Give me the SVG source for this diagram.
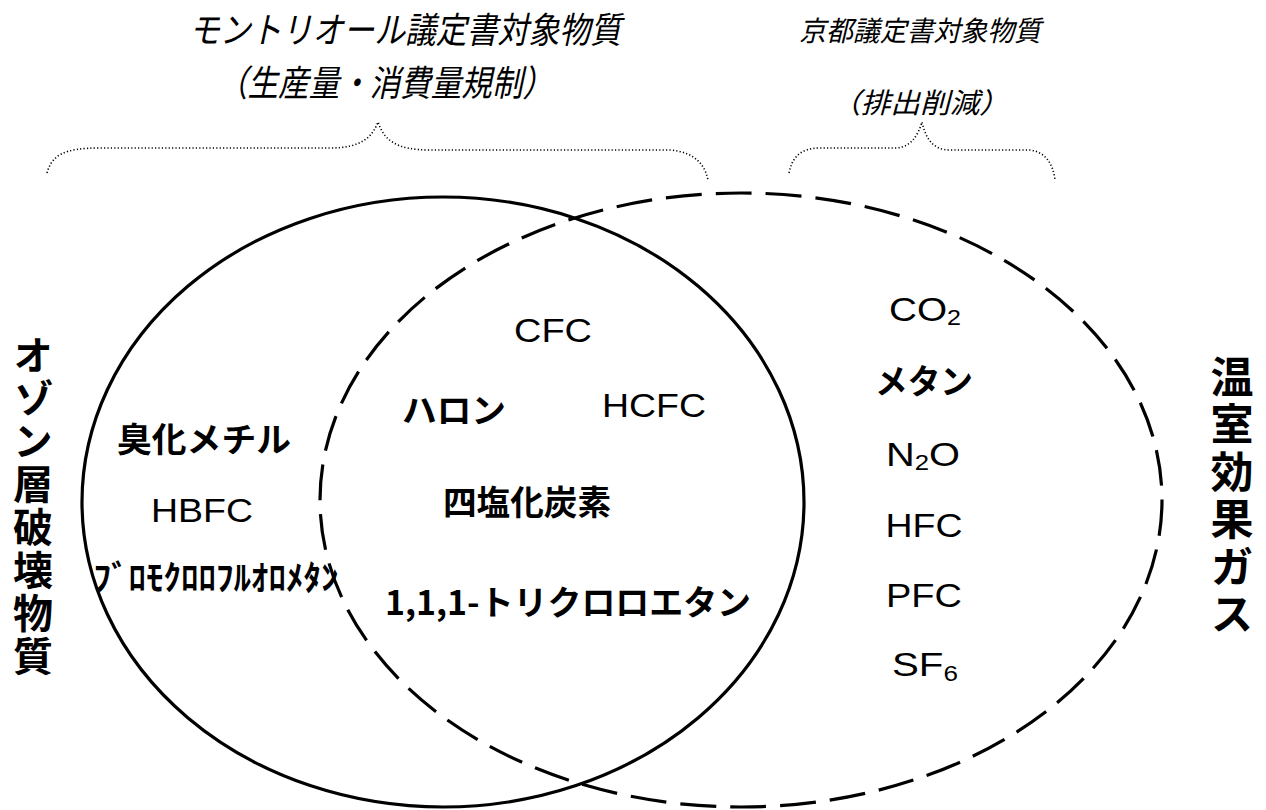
<svg xmlns="http://www.w3.org/2000/svg" width="1266" height="810" viewBox="0 0 1266 810">
<style>
.jp{font-family:"Noto Sans CJK JP","Liberation Sans",sans-serif;fill:#000}
.b{font-weight:bold}
.it{font-style:italic;font-weight:normal}
.lat{font-family:"Liberation Sans","Noto Sans CJK JP",sans-serif;fill:#000}
.c{text-anchor:middle;dominant-baseline:central}
.m{text-anchor:middle}
.v{writing-mode:vertical-rl;text-orientation:upright}
.brace{fill:none;stroke:#000;stroke-width:1.6;stroke-dasharray:1.2 2.2}
.solid{fill:none;stroke:#000;stroke-width:3.2}
.dash{fill:none;stroke:#000;stroke-width:3.2;stroke-dasharray:36 14}
</style>
<rect width="1266" height="810" fill="#fff"/>
<g id="connectors">
<path class="brace" d="M47,173 C52,155 64,148 100,148 L330,148 C360,148 372,138 378,122 C384,140 396,150 430,150 L670,150 C695,152 705,165 708,180"/>
<path class="brace" d="M789,173 C792,158 800,148 820,148 L895,148 C910,148 918,136 922,122 C926,140 934,150 950,150 L1030,150 C1045,152 1053,163 1055,180"/>
</g>
<g id="montreal-ellipse"><ellipse class="solid" cx="443" cy="502" rx="361" ry="305"/></g>
<g id="kyoto-ellipse"><ellipse class="dash" cx="741" cy="500" rx="421" ry="307"/></g>
<g id="title-montreal">
<text class="jp it c" x="405" y="27" font-size="36" textLength="432" lengthAdjust="spacingAndGlyphs">モントリオール議定書対象物質</text>
<text class="jp it c" x="385" y="80" font-size="36" textLength="336" lengthAdjust="spacingAndGlyphs">（生産量・消費量規制）</text>
</g>
<g id="title-kyoto">
<text class="jp it c" x="920" y="29" font-size="28" textLength="242" lengthAdjust="spacingAndGlyphs">京都議定書対象物質</text>
<text class="jp it c" x="920" y="101" font-size="28" textLength="178" lengthAdjust="spacingAndGlyphs">（排出削減）</text>
</g>
<g id="label-ozone">
<text class="jp b v" x="33" y="335" font-size="40" letter-spacing="3">オゾン層破壊物質</text>
</g>
<g id="label-ghg">
<text class="jp b v" x="1232" y="355" font-size="43" letter-spacing="4.5">温室効果ガス</text>
</g>
<g id="ozone-only">
<text class="jp b c" x="204" y="437" font-size="34" textLength="174" lengthAdjust="spacingAndGlyphs">臭化メチル</text>
<text class="lat c" x="202" y="510" font-size="34" textLength="102" lengthAdjust="spacingAndGlyphs">HBFC</text>
<text class="jp b c" x="216" y="575" font-size="34" textLength="245" lengthAdjust="spacingAndGlyphs">ﾌﾞﾛﾓｸﾛﾛﾌﾙｵﾛﾒﾀﾝ</text>
</g>
<g id="overlap">
<text class="lat c" x="553" y="330" font-size="34" textLength="78" lengthAdjust="spacingAndGlyphs">CFC</text>
<text class="jp b c" x="454" y="408" font-size="34" textLength="104" lengthAdjust="spacingAndGlyphs">ハロン</text>
<text class="lat c" x="654" y="405" font-size="34" textLength="104" lengthAdjust="spacingAndGlyphs">HCFC</text>
<text class="jp b c" x="527" y="500" font-size="34" textLength="168" lengthAdjust="spacingAndGlyphs">四塩化炭素</text>
<text class="jp b c" x="568" y="600" font-size="34" textLength="366" lengthAdjust="spacingAndGlyphs">1,1,1-トリクロロエタン</text>
</g>
<g id="ghg-only">
<text class="lat m" x="925" y="321" font-size="34" textLength="72" lengthAdjust="spacingAndGlyphs">CO<tspan font-size="22" baseline-shift="-4">2</tspan></text>
<text class="jp b c" x="924" y="379" font-size="34" textLength="98" lengthAdjust="spacingAndGlyphs">メタン</text>
<text class="lat m" x="923" y="466" font-size="34" textLength="74" lengthAdjust="spacingAndGlyphs">N<tspan font-size="22" baseline-shift="-4">2</tspan><tspan font-size="34">O</tspan></text>
<text class="lat m" x="924" y="537" font-size="34" textLength="77" lengthAdjust="spacingAndGlyphs">HFC</text>
<text class="lat m" x="924" y="607" font-size="34" textLength="76" lengthAdjust="spacingAndGlyphs">PFC</text>
<text class="lat m" x="925" y="676" font-size="34" textLength="66" lengthAdjust="spacingAndGlyphs">SF<tspan font-size="22" baseline-shift="-5">6</tspan></text>
</g>
</svg>
